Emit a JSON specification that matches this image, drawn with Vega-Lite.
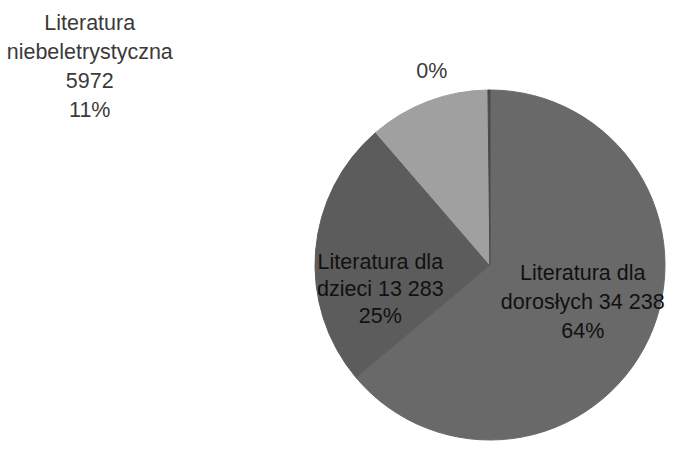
{
  "$schema": "https://vega.github.io/schema/vega-lite/v6.json",
  "width": 350,
  "height": 350,
  "autosize": {"type": "none"},
  "padding": {"left": 315, "top": 90, "right": 11, "bottom": 25},
  "background": "white",
  "config": {"view": {"stroke": null}},
  "data": {
    "values": [
      {"idx": 1, "kategoria": "Literatura dla dorosłych", "value": 34238, "label": ["Literatura dla", "dorosłych 34 238", "64%"]},
      {"idx": 2, "kategoria": "Literatura dla dzieci", "value": 13283, "label": ["Literatura dla", "dzieci 13 283", "25%"]},
      {"idx": 3, "kategoria": "Literatura niebeletrystyczna", "value": 5972, "label": ["Literatura", "niebeletrystyczna", "5972", "11%"]},
      {"idx": 4, "kategoria": "Inne", "value": 100, "label": ["0%"]}
    ]
  },
  "transform": [
    {"stack": "value", "groupby": [], "sort": [{"field": "idx", "order": "ascending"}], "as": ["v0", "v1"]},
    {"calculate": "(datum.v0 + datum.v1) / 2", "as": "mid"}
  ],
  "encoding": {
    "theta": {"field": "v0", "type": "quantitative", "scale": {"domain": [0, 53593]}}
  },
  "layer": [
    {
      "mark": {"type": "arc", "radius": 175},
      "encoding": {
        "theta2": {"field": "v1"},
        "color": {
          "field": "kategoria",
          "type": "nominal",
          "scale": {
            "domain": ["Literatura dla dorosłych", "Literatura dla dzieci", "Literatura niebeletrystyczna", "Inne"],
            "range": ["#696969", "#5c5c5c", "#a0a0a0", "#4a4a4a"]
          },
          "legend": null
        },
        "stroke": {
          "field": "kategoria",
          "type": "nominal",
          "scale": {
            "domain": ["Literatura dla dorosłych", "Literatura dla dzieci", "Literatura niebeletrystyczna", "Inne"],
            "range": ["#696969", "#5c5c5c", "#a0a0a0", "#4a4a4a"]
          },
          "legend": null
        }
      }
    },
    {
      "transform": [{"filter": "datum.idx == 1"}],
      "mark": {"type": "text", "radius": 99, "dx": 3, "dy": -33, "font": "Liberation Sans", "fontSize": 21.5, "lineHeight": 29, "color": "#111111", "baseline": "middle", "align": "center"},
      "encoding": {"theta": {"field": "mid", "type": "quantitative"}, "text": {"field": "label"}}
    },
    {
      "transform": [{"filter": "datum.idx == 2"}],
      "mark": {"type": "text", "radius": 110, "dx": 0, "dy": 7, "font": "Liberation Sans", "fontSize": 21.5, "lineHeight": 27, "color": "#111111", "baseline": "middle", "align": "center"},
      "encoding": {"theta": {"field": "mid", "type": "quantitative"}, "text": {"field": "label"}}
    },
    {
      "transform": [{"filter": "datum.idx == 3"}],
      "mark": {"type": "text", "radius": 190, "dx": -333, "dy": -63, "font": "Liberation Sans", "fontSize": 21.5, "lineHeight": 29, "color": "#3a3a3a", "baseline": "middle", "align": "center"},
      "encoding": {"theta": {"field": "mid", "type": "quantitative"}, "text": {"field": "label"}}
    },
    {
      "transform": [{"filter": "datum.idx == 4"}],
      "mark": {"type": "text", "radius": 193, "dx": -57, "dy": 0, "font": "Liberation Sans", "fontSize": 21.5, "lineHeight": 28, "color": "#3a3a3a", "baseline": "middle", "align": "center"},
      "encoding": {"theta": {"field": "mid", "type": "quantitative"}, "text": {"field": "label"}}
    }
  ]
}
